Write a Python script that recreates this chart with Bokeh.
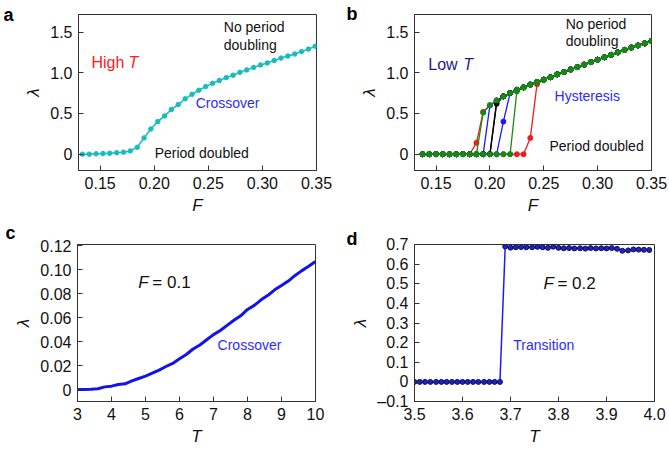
from bokeh.plotting import figure
from bokeh.models import Label, FixedTicker, NumeralTickFormatter, Range1d, LinearAxis
from bokeh.layouts import column, row
from bokeh.embed import file_html
from bokeh.resources import INLINE

FONT = "Liberation Sans"

# ---------------- data ----------------
# panel a (high T)
F_a = [0.1336, 0.1399, 0.1463, 0.1526, 0.1589, 0.1653, 0.1716, 0.1779, 0.1843, 0.1906,
       0.1969, 0.2033, 0.2096, 0.2159, 0.2222, 0.2286, 0.2349, 0.2412, 0.2476, 0.2539,
       0.2602, 0.2666, 0.2729, 0.2792, 0.2855, 0.2919, 0.2982, 0.3045, 0.3109, 0.3172,
       0.3235, 0.3299, 0.3362, 0.3425, 0.3488]
lam_a = [0.0, 0.0, 0.005, 0.008, 0.012, 0.018, 0.025, 0.04, 0.085, 0.20,
         0.31, 0.40, 0.47, 0.55, 0.61, 0.68, 0.735, 0.785, 0.83, 0.87,
         0.905, 0.94, 0.97, 1.005, 1.035, 1.065, 1.095, 1.12, 1.15, 1.18,
         1.205, 1.23, 1.26, 1.29, 1.325]

# panel b (low T, hysteresis sweeps)
F_b = [0.1375, 0.14375, 0.15, 0.15625, 0.1625, 0.16875, 0.175, 0.18125, 0.1875, 0.19375,
       0.2, 0.20625, 0.2125, 0.21875, 0.225, 0.23125, 0.2375, 0.24375, 0.25, 0.25625,
       0.2625, 0.26875, 0.275, 0.28125, 0.2875, 0.29375, 0.3, 0.30625, 0.3125, 0.31875,
       0.325, 0.33125, 0.3375, 0.34375, 0.35]
lam_red_down = [0, 0, 0, 0, 0, 0, 0, 0, 0.14, 0.52,
                0.60, 0.66, 0.71, 0.75, 0.79, 0.82, 0.855, 0.885, 0.915, 0.945,
                0.98, 1.01, 1.04, 1.07, 1.10, 1.13, 1.16, 1.19, 1.22, 1.25,
                1.28, 1.31, 1.335, 1.36, 1.39]
lam_red_up = [0, 0, 0, 0, 0, 0, 0, 0, 0, 0,
              0, 0, 0, 0, 0, 0, 0.20, 0.86, 0.915, 0.945,
              0.98, 1.01, 1.04, 1.07, 1.10, 1.13, 1.16, 1.19, 1.22, 1.25,
              1.28, 1.31, 1.335, 1.36, 1.39]
lam_blue_down = [0, 0, 0, 0, 0, 0, 0, 0, 0, 0,
                 0.60, 0.66, 0.71, 0.75, 0.79, 0.82, 0.855, 0.885, 0.915, 0.945,
                 0.98, 1.01, 1.04, 1.07, 1.10, 1.13, 1.16, 1.19, 1.22, 1.25,
                 1.28, 1.31, 1.335, 1.36, 1.39]
lam_blue_up = [0, 0, 0, 0, 0, 0, 0, 0, 0, 0,
               0, 0, 0.40, 0.75, 0.79, 0.82, 0.855, 0.885, 0.915, 0.945,
               0.98, 1.01, 1.04, 1.07, 1.10, 1.13, 1.16, 1.19, 1.22, 1.25,
               1.28, 1.31, 1.335, 1.36, 1.39]
lam_black_down = [0, 0, 0, 0, 0, 0, 0, 0, 0, 0,
                  0, 0.65, 0.71, 0.75, 0.79, 0.82, 0.855, 0.885, 0.915, 0.945,
                  0.98, 1.01, 1.04, 1.07, 1.10, 1.13, 1.16, 1.19, 1.22, 1.25,
                  1.28, 1.31, 1.335, 1.36, 1.39]
lam_black_up = [0, 0, 0, 0, 0, 0, 0, 0, 0, 0,
                0, 0.62, 0.71, 0.75, 0.79, 0.82, 0.855, 0.885, 0.915, 0.945,
                0.98, 1.01, 1.04, 1.07, 1.10, 1.13, 1.16, 1.19, 1.22, 1.25,
                1.28, 1.31, 1.335, 1.36, 1.39]
lam_green_down = [0, 0, 0, 0, 0, 0, 0, 0, 0, 0.51,
                  0.60, 0.66, 0.71, 0.75, 0.79, 0.82, 0.855, 0.885, 0.915, 0.945,
                  0.98, 1.01, 1.04, 1.07, 1.10, 1.13, 1.16, 1.19, 1.22, 1.25,
                  1.28, 1.31, 1.335, 1.36, 1.39]
lam_green_up = [0, 0, 0, 0, 0, 0, 0, 0, 0, 0,
                0, 0, 0, 0, 0.77, 0.82, 0.855, 0.885, 0.915, 0.945,
                0.98, 1.01, 1.04, 1.07, 1.10, 1.13, 1.16, 1.19, 1.22, 1.25,
                1.28, 1.31, 1.335, 1.36, 1.39]

# panel c (F = 0.1)
T_c = [3.0, 3.2, 3.4, 3.6, 3.8, 4.0, 4.2, 4.4, 4.6, 4.8,
       5.0, 5.2, 5.4, 5.6, 5.8, 6.0, 6.2, 6.4, 6.6, 6.8,
       7.0, 7.2, 7.4, 7.6, 7.8, 8.0, 8.2, 8.4, 8.6, 8.8,
       9.0, 9.2, 9.4, 9.6, 9.8, 10.0]
lam_c = [0.0, 0.0001, 0.0002, 0.0006, 0.0022, 0.0028, 0.0042, 0.0048, 0.0072, 0.0092,
         0.0112, 0.0136, 0.0162, 0.0192, 0.0218, 0.0256, 0.0292, 0.0338, 0.0372, 0.0415,
         0.0458, 0.0492, 0.0535, 0.0578, 0.0615, 0.0668, 0.0702, 0.0748, 0.0786, 0.0832,
         0.0868, 0.0905, 0.0952, 0.0992, 0.1028, 0.1068]

# panel d (F = 0.2)
T_d = [3.500, 3.511, 3.522, 3.533, 3.545, 3.556, 3.567, 3.578, 3.589, 3.600,
       3.611, 3.622, 3.633, 3.645, 3.656, 3.667, 3.678, 3.689, 3.700, 3.711,
       3.722, 3.733, 3.745, 3.756, 3.767, 3.778, 3.789, 3.800, 3.811, 3.822,
       3.833, 3.845, 3.856, 3.867, 3.878, 3.889, 3.900, 3.911, 3.922, 3.933,
       3.945, 3.956, 3.967, 3.978, 3.989]
lam_d = [0, 0, 0, 0, 0, 0, 0, 0, 0, 0,
         0, 0, 0, 0, 0, 0, 0, 0.690, 0.684, 0.686,
         0.687, 0.686, 0.686, 0.688, 0.686, 0.683, 0.689, 0.683, 0.681, 0.682,
         0.680, 0.681, 0.679, 0.682, 0.680, 0.681, 0.680, 0.682, 0.678, 0.668,
         0.670, 0.675, 0.674, 0.673, 0.672]

ticks_F = [0.15, 0.20, 0.25, 0.30, 0.35]
ticks_lam_ab = [0, 0.5, 1.0, 1.5]
labels_lam_ab = {0: "0", 0.5: "0.5", 1: "1.0", 1.5: "1.5"}
ticks_T_c = [3, 4, 5, 6, 7, 8, 9, 10]
ticks_lam_c = [0, 0.02, 0.04, 0.06, 0.08, 0.10, 0.12]
labels_lam_c = {0: "0", 0.02: "0.02", 0.04: "0.04", 0.06: "0.06", 0.08: "0.08", 0.1: "0.10", 0.12: "0.12"}
ticks_T_d = [3.5, 3.6, 3.7, 3.8, 3.9, 4.0]
ticks_lam_d = [-0.1, 0, 0.1, 0.2, 0.3, 0.4, 0.5, 0.6, 0.7]
labels_lam_d = {-0.1: "\u20130.1", 0: "0", 0.1: "0.1", 0.2: "0.2", 0.3: "0.3", 0.4: "0.4",
                0.5: "0.5", 0.6: "0.6", 0.7: "0.7"}

FRAME = "#333333"
TXT = "#111111"


def make_fig(w, h, xr, yr, borders):
    l, r, t, b = borders
    p = figure(width=w, height=h, x_range=Range1d(*xr), y_range=Range1d(*yr),
               output_backend="svg", toolbar_location=None,
               min_border_left=l, min_border_right=r, min_border_top=t, min_border_bottom=b)
    p.xgrid.visible = False
    p.ygrid.visible = False
    p.outline_line_color = FRAME
    p.outline_line_width = 1
    p.background_fill_color = "white"
    p.border_fill_color = "white"
    for ax in (p.xaxis[0], p.yaxis[0]):
        ax.major_tick_in = 5
        ax.major_tick_out = 0
        ax.minor_tick_line_color = None
        ax.axis_line_color = FRAME
        ax.major_tick_line_color = FRAME
        ax.major_label_text_font = FONT
        ax.major_label_text_font_size = "16px"
        ax.major_label_text_color = TXT
        ax.axis_label_text_font = FONT
        ax.axis_label_text_font_size = "17px"
        ax.axis_label_text_font_style = "italic"
        ax.axis_label_text_color = TXT
        ax.axis_label_standoff = 4
        ax.major_label_standoff = 6
    return p


def txt(p, x, y, s, color=TXT, size="14px", style="normal", xoff=0):
    p.add_layout(Label(x=x, y=y, text=s, text_font=FONT, text_font_size=size,
                       text_font_style=style, text_color=color, text_align="left",
                       text_baseline="middle", x_offset=xoff))


def letter(p, yval, s, standoff):
    # panel letter: the single label (letter plus a blank lower line) of an extra,
    # invisible left axis, so that the letter sits above its tick position
    ax = LinearAxis(ticker=FixedTicker(ticks=[yval]),
                    major_label_overrides={yval: s + "\n\u00a0"},
                    axis_line_color=None, major_tick_line_color=None,
                    minor_tick_line_color=None, major_tick_in=0, major_tick_out=0,
                    major_label_text_font=FONT, major_label_text_font_size="18px",
                    major_label_text_font_style="bold", major_label_text_color="black",
                    major_label_text_baseline="middle", major_label_standoff=standoff)
    p.add_layout(ax, "left")


RED_T = "#ff1a1a"
NAVY = "#1c1c8c"
BLUE_T = "#2b2bff"

TOP_H = 222
BOT_H = 457 - TOP_H

# ---------------- panel a ----------------
pa = make_fig(335, TOP_H, (0.13, 0.35), (-0.2, 1.715), (77, 19, 13, TOP_H - 170))
pa.xaxis[0].ticker = FixedTicker(ticks=ticks_F)
pa.xaxis[0].formatter = NumeralTickFormatter(format="0.00")
pa.yaxis[0].ticker = FixedTicker(ticks=ticks_lam_ab)
pa.yaxis[0].major_label_overrides = labels_lam_ab
pa.xaxis[0].axis_label = "F"
pa.yaxis[0].axis_label = "\u03bb"
TEAL = "#17bdbd"
pa.line(F_a, lam_a, line_color=TEAL, line_width=1.5)
pa.scatter(F_a, lam_a, size=4.5, fill_color=TEAL, line_color=TEAL)
txt(pa, 0.142, 1.13, "High ", RED_T, "16px")
txt(pa, 0.142, 1.13, "T", RED_T, "16px", "italic", xoff=37)
txt(pa, 0.2643, 1.557, "No period")
txt(pa, 0.2643, 1.338, "doubling")
txt(pa, 0.2383, 0.63, "Crossover", BLUE_T)
txt(pa, 0.2004, 0.02, "Period doubled")
letter(pa, 1.565, "a", 8)

# ---------------- panel b ----------------
pb = make_fig(334, TOP_H, (0.13, 0.35), (-0.2, 1.715), (79, 18, 14, TOP_H - 171))
pb.xaxis[0].ticker = FixedTicker(ticks=ticks_F)
pb.xaxis[0].formatter = NumeralTickFormatter(format="0.00")
pb.yaxis[0].ticker = FixedTicker(ticks=ticks_lam_ab)
pb.yaxis[0].major_label_overrides = labels_lam_ab
pb.xaxis[0].axis_label = "F"
pb.yaxis[0].axis_label = "\u03bb"
sweeps = [
    (lam_red_down, "#ee1c1c"), (lam_red_up, "#ee1c1c"),
    (lam_blue_down, "#1a1aff"), (lam_blue_up, "#1a1aff"),
    (lam_black_down, "#000000"), (lam_black_up, "#000000"),
    (lam_green_down, "#158a15"), (lam_green_up, "#158a15"),
]
for lam, col in sweeps:
    pb.line(F_b, lam, line_color=col, line_width=1.3)
    pb.scatter(F_b, lam, size=5, fill_color=col, line_color=col)
txt(pb, 0.1428, 1.097, "Low ", NAVY, "16px")
txt(pb, 0.1428, 1.097, "T", NAVY, "16px", "italic", xoff=35)
txt(pb, 0.2703, 1.603, "No period")
txt(pb, 0.2703, 1.387, "doubling")
txt(pb, 0.26, 0.715, "Hysteresis", BLUE_T)
txt(pb, 0.2553, 0.099, "Period doubled")
letter(pb, 1.575, "b", 0)

# ---------------- panel c ----------------
pc = make_fig(335, BOT_H, (3, 10), (-0.01, 0.121), (77, 20, 244 - TOP_H, 56))
pc.xaxis[0].ticker = FixedTicker(ticks=ticks_T_c)
pc.yaxis[0].ticker = FixedTicker(ticks=ticks_lam_c)
pc.yaxis[0].major_label_overrides = labels_lam_c
pc.xaxis[0].axis_label = "T"
pc.yaxis[0].axis_label = "\u03bb"
BLUE_C = "#1212ee"
pc.line(T_c, lam_c, line_color=BLUE_C, line_width=3)
txt(pc, 4.79, 0.0894, "F", TXT, "17px", "italic")
txt(pc, 4.79, 0.0894, "= 0.1", TXT, "17px", xoff=14)
txt(pc, 7.12, 0.037, "Crossover", BLUE_T)
letter(pc, 0.1209, "c", -4)

# ---------------- panel d ----------------
pd = make_fig(334, BOT_H, (3.5, 4.0), (-0.1, 0.7), (79, 15, 244 - TOP_H, 56))
pd.xaxis[0].ticker = FixedTicker(ticks=ticks_T_d)
pd.xaxis[0].formatter = NumeralTickFormatter(format="0.0")
pd.yaxis[0].ticker = FixedTicker(ticks=ticks_lam_d)
pd.yaxis[0].major_label_overrides = labels_lam_d
pd.xaxis[0].axis_label = "T"
pd.yaxis[0].axis_label = "\u03bb"
pd.line(T_d, lam_d, line_color="#1a1aff", line_width=1.5)
pd.scatter(T_d, lam_d, size=5, fill_color="#2020cc", line_color="#10104a", line_width=1)
txt(pd, 3.7685, 0.5036, "F", TXT, "17px", "italic")
txt(pd, 3.7685, 0.5036, "= 0.2", TXT, "17px", xoff=14)
txt(pd, 3.7059, 0.186, "Transition", BLUE_T)
letter(pd, 0.669, "d", -9)

layout = column(row(pa, pb), row(pc, pd))
open("out.html", "w").write(file_html(layout, INLINE))
